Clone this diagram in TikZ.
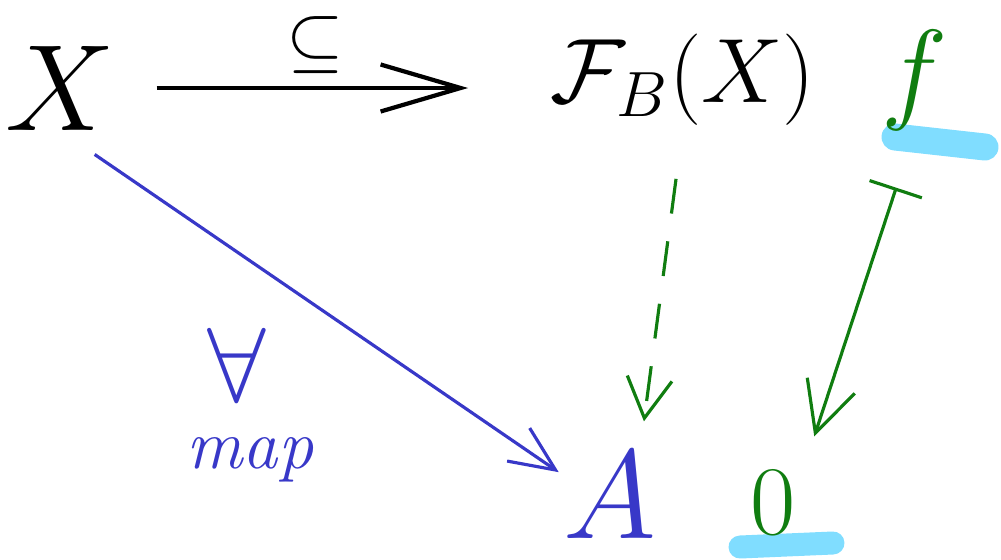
\RequirePackage{fix-cm}
\documentclass[tikz,border=0pt]{standalone}
\usetikzlibrary{arrows.meta}
\definecolor{penblue}{RGB}{56,56,200}
\definecolor{pengreen}{RGB}{16,125,16}
\definecolor{marker}{RGB}{128,221,255}

\begin{document}
\begin{tikzpicture}[font=\fontsize{38}{40}\selectfont, inner sep=0pt]
                \useasboundingbox (0,0) rectangle (10.01,5.59);

                \draw[marker, line width=2.7mm, line cap=round] (8.95,4.22) -- (9.85,4.12);
                \draw[marker, line width=2.3mm, line cap=round] (7.40,0.12) -- (8.33,0.16);

                \node (X) at (0.60,4.71) {\fontsize{35}{37}\selectfont $X$};
                \node (FB) at (6.83,4.79) {\fontsize{26}{28}\selectfont $\mathcal{F}_B(X)$};
                \node[text=pengreen] (f) at (9.15,4.79) {\fontsize{32}{34}\selectfont $f$};
                \node[text=penblue] (A) at (6.10,0.64) {\fontsize{36}{38}\selectfont $A$};
                \node[text=pengreen] (zero) at (7.73,0.56) {\fontsize{28}{30}\selectfont $0$};
                \node[text=penblue] (forall) at (2.37,1.94) {\fontsize{30}{32}\selectfont $\forall$};
                \node[text=penblue] (map) at (2.50,0.99) {\fontsize{20}{22}\selectfont\itshape map};

                \draw[line width=1.2pt, shorten <=0.41cm, shorten >=0.82cm, -{Straight Barb[length=8mm, width=4.7mm]}] (X.east) -- (X.east -| FB.west) node[pos=0.46, above=1.2mm] {\fontsize{21}{23}\selectfont $\subseteq$};
                \draw[penblue, line width=0.9pt, shorten <=0.42cm, shorten >=0.05cm, -{Straight Barb[length=4.5mm, width=4mm]}] (X.south) -- ([yshift=2mm]A.west);
                \draw[pengreen, line width=0.9pt, dash pattern=on 3.5mm off 2.8mm, shorten <=0.53cm, shorten >=0.3cm, -{Straight Barb[length=4mm, width=4.5mm]}] (FB.south) -- ([xshift=3mm]A.north);
                \draw[pengreen, line width=0.9pt, shorten <=0.6cm, shorten >=0.36cm, {Bar[width=5.5mm]}-{Straight Barb[length=5mm, width=5mm]}] (f.south) -- ([xshift=3mm]zero.north);

            \end{tikzpicture}
\end{document}
